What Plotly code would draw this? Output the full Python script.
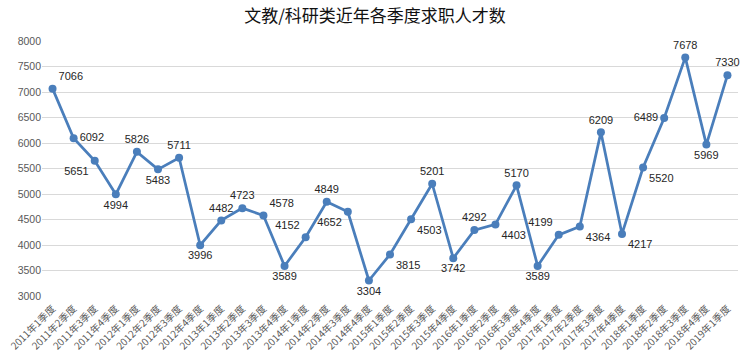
import plotly.graph_objects as go

quarters = [
    "2011年1季度", "2011年2季度", "2011年3季度", "2011年4季度",
    "2012年1季度", "2012年2季度", "2012年3季度", "2012年4季度",
    "2013年1季度", "2013年2季度", "2013年3季度", "2013年4季度",
    "2014年1季度", "2014年2季度", "2014年3季度", "2014年4季度",
    "2015年1季度", "2015年2季度", "2015年3季度", "2015年4季度",
    "2016年1季度", "2016年2季度", "2016年3季度", "2016年4季度",
    "2017年1季度", "2017年2季度", "2017年3季度", "2017年4季度",
    "2018年1季度", "2018年2季度", "2018年3季度", "2018年4季度",
    "2019年1季度",
]
job_seekers = [
    7066, 6092, 5651, 4994,
    5826, 5483, 5711, 3996,
    4482, 4723, 4578, 3589,
    4152, 4849, 4652, 3304,
    3815, 4503, 5201, 3742,
    4292, 4403, 5170, 3589,
    4199, 4364, 6209, 4217,
    5520, 6489, 7678, 5969,
    7330,
]
y_ticks = [3000, 3500, 4000, 4500, 5000, 5500, 6000, 6500, 7000, 7500, 8000]

# label placement (style)
label_pos = [
    "top right", "middle right", "bottom left", "bottom center",
    "top center", "bottom center", "top center", "bottom center",
    "top center", "top center", "top right", "bottom center",
    "top left", "top center", "bottom left", "bottom center",
    "bottom right", "bottom right", "top center", "bottom center",
    "top center", "bottom right", "top center", "bottom center",
    "top left", "bottom right", "top center", "bottom right",
    "bottom right", "middle left", "top center", "bottom center",
    "top center",
]

fig = go.Figure()
fig.add_trace(go.Scatter(
    x=list(range(len(quarters))),
    y=job_seekers,
    mode="lines+markers+text",
    line=dict(color="#4A7EBB", width=2.75),
    marker=dict(color="#4A7EBB", size=8),
    text=[str(v) for v in job_seekers],
    textposition=label_pos,
    textfont=dict(family="Liberation Sans, Arial", size=11, color="#262626"),
    cliponaxis=False,
    showlegend=False,
    hoverinfo="skip",
))

fig.update_layout(
    width=750, height=360,
    paper_bgcolor="white", plot_bgcolor="white",
    margin=dict(l=42, r=12, t=41, b=64, autoexpand=False),
    title=dict(
        text="文教/科研类近年各季度求职人才数",
        x=0.5, xanchor="center", y=1 - 16 / 360, yanchor="middle",
        font=dict(family="Noto Sans CJK SC", size=17, color="#111111"),
    ),
    xaxis=dict(
        tickmode="array",
        tickvals=list(range(len(quarters))),
        ticktext=quarters,
        tickangle=-45,
        range=[-0.5, len(quarters) - 0.5],
        showgrid=False, zeroline=False, showline=False,
        ticks="",
        ticklabelstandoff=4,
        tickfont=dict(family="Noto Sans CJK SC", size=10, color="#595959"),
        automargin=False,
    ),
    yaxis=dict(
        range=[3000, 8000],
        tickmode="array",
        tickvals=y_ticks,
        ticktext=[str(v) for v in y_ticks],
        showgrid=True, gridcolor="#D9D9D9", gridwidth=1,
        zeroline=False, showline=False, ticks="",
        tickfont=dict(family="Liberation Sans, Arial", size=10.5, color="#595959"),
        automargin=False,
    ),
)

fig.write_html("out.html", config={"displayModeBar": False},
               post_script="document.body.style.margin='0';")
